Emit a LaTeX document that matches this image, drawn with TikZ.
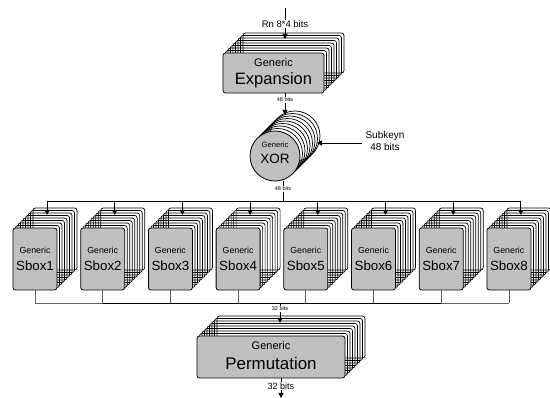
\documentclass[tikz,border=0pt]{standalone}
\usepackage{fontspec}
\setmainfont{Liberation Sans}
\usetikzlibrary{arrows.meta,calc}
\definecolor{boxgray}{HTML}{C0C0C0}
\definecolor{busgray}{HTML}{606060}
\tikzset{
  stk/.style={draw=black, line width=0.7pt, rounded corners=2.5pt},
  front/.style={draw=black, fill=boxgray, line width=0.8pt, rounded corners=2.5pt, inner sep=0pt},
  frontc/.style={draw=black, fill=boxgray, line width=0.8pt, circle, inner sep=0pt, minimum size=50pt},
  wire/.style={line width=0.9pt},
  arr/.style={wire, -{Triangle[length=5pt,width=5pt]}},
  tinylbl/.style={font=\fontsize{5.5}{6}\selectfont, fill=white, inner sep=0.6pt},
  lbl/.style={font=\fontsize{9.5}{11}\selectfont, fill=white, inner sep=0.8pt},
  gensmall/.style={font=\fontsize{8.8}{10}\selectfont, inner sep=0pt},
  genbig/.style={font=\fontsize{11}{12}\selectfont, inner sep=0pt},
  gentiny/.style={font=\fontsize{7.6}{9}\selectfont, inner sep=0pt},
}
\begin{document}
\begin{tikzpicture}[x=1pt,y=-1pt]
\useasboundingbox (0,0) rectangle (550,398);
% ---------- Expansion ----------
\foreach \k in {8,7,...,1}
  \draw[stk] ({223+2.5*\k},{53-2.5*\k}) rectangle ++(101,40);
\node[front, minimum width=101pt, minimum height=40pt] (exp) at (273.5,73) {};
\node[genbig] (expg) at (273.5,63) {Generic};
\node[font=\fontsize{16.5}{18}\selectfont, inner sep=0pt] (expt) at (273.5,80) {Expansion};
\coordinate (rnin) at (285,8);
\coordinate (rnend) at (285,39);
\draw[arr] (rnin) -- (rnend);
\node[lbl] (rnlbl) at (285,24) {Rn 8*4 bits};
% ---------- XOR ----------
\foreach \k in {8,7,...,1}
  \draw[line width=0.7pt] ({275+2.5*\k},{156-2.5*\k}) circle (25pt);
\node[frontc] (xor) at (275,156) {};
\node[gentiny] (xorg) at (275,145) {Generic};
\node[font=\fontsize{13.5}{15}\selectfont, inner sep=0pt] (xort) at (275,159) {XOR};
\coordinate (expout) at (285,93);
\coordinate (xorin) at (285,115);
\draw[arr] (expout) -- (xorin);
\node[tinylbl] (l48a) at (285,100) {48 bits};
\coordinate (subin) at (362,143);
\coordinate (subend) at (317,143);
\draw[arr] (subin) -- (subend);
\node[font=\fontsize{10}{11.5}\selectfont, align=center, inner sep=0pt] (subk) at (385,141) {Subkeyn\\48 bits};
% ---------- top bus ----------
\coordinate (xorout) at (283,181);
\coordinate (busjoin) at (283,201);
\draw[wire] (xorout) -- (busjoin);
\node[tinylbl] (l48b) at (283,189) {48 bits};
\foreach \i in {1,...,8} {
  \coordinate (tb\i) at ({47+67.7*(\i-1)},201);
  \coordinate (ta\i) at ({47+67.7*(\i-1)},215);
}
\draw[wire] (tb1) -- (tb8);
% ---------- Sboxes ----------
\foreach \i in {1,...,8} {
  \pgfmathsetmacro\xl{13+67.7*(\i-1)}
  \foreach \k in {8,7,...,1}
    \draw[stk] ({\xl+2.5*\k},{228-2.5*\k}) rectangle ++(44,62);
  \node[front, minimum width=44pt, minimum height=62pt] (s\i) at ({\xl+22},259) {};
  \node[gensmall] at ($(s\i.center)+(0,-9)$) {Generic};
  \node[font=\fontsize{13.3}{15}\selectfont, inner sep=0pt] at ($(s\i.center)+(0,6.5)$) {Sbox\i};
  \draw[arr] (tb\i) -- (ta\i);
  \coordinate (bb\i) at ($(s\i.south)+(0,13)$);
  \draw[line width=0.7pt, busgray] (s\i.south) -- (bb\i);
}
\draw[line width=0.8pt, busgray] (bb1) -- (bb8);
\draw[line width=1.6pt] (bb2) -- (bb7);
% ---------- Permutation ----------
\foreach \k in {8,7,...,1}
  \draw[stk] ({197+2.5*\k},{336-2.5*\k}) rectangle ++(148,42);
\node[front, minimum width=148pt, minimum height=42pt] (perm) at (271,357) {};
\node[genbig] (permg) at (271,346) {Generic};
\node[font=\fontsize{16.9}{18}\selectfont, inner sep=0pt] (permt) at (271,363) {Permutation};
\coordinate (pin) at (280,303);
\coordinate (pend) at (280,323);
\draw[arr] (pin) -- (pend);
\node[tinylbl] (l32a) at (280,309) {32 bits};
\coordinate (pout) at (281,378);
\coordinate (pfin) at (281,398);
\draw[arr] (pout) -- (pfin);
\node[font=\fontsize{9}{10}\selectfont, fill=white, inner sep=0.8pt] (l32b) at (281,386) {32 bits};
\end{tikzpicture}
\end{document}
